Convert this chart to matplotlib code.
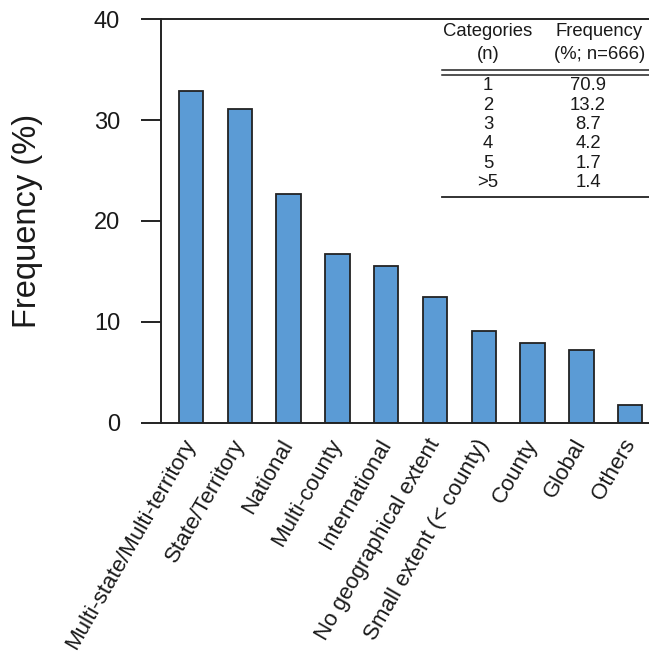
import numpy as np
import matplotlib.pyplot as plt

plt.rcParams['font.family'] = ['Liberation Sans', 'DejaVu Sans']

# geographical extent categories and their frequency (%)
categories = ['Multi-state/Multi-territory', 'State/Territory', 'National',
              'Multi-county', 'International', 'No geographical extent',
              'Small extent (< county)', 'County', 'Global', 'Others']
frequency = [32.9, 31.1, 22.7, 16.7, 15.5, 12.5, 9.1, 7.9, 7.2, 1.8]

# inset table: number of categories per item
n_categories = ['1', '2', '3', '4', '5', '>5']
n_frequency = ['70.9', '13.2', '8.7', '4.2', '1.7', '1.4']

bar_color = '#5B9BD5'
line_color = '#222222'
text_color = '#1a1a1a'

fig = plt.figure(figsize=(6.49, 6.52), dpi=100)
ax = fig.add_axes([0.248, 0.3517, 0.752, 0.6187])

x = np.arange(len(categories))
ax.bar(x, frequency, width=0.5, color=bar_color, edgecolor=line_color, linewidth=1.3, zorder=2)

ax.set_xlim(-0.615, 9.385)
ax.set_ylim(0, 40)
ax.set_yticks([0, 10, 20, 30, 40])
ax.tick_params(axis='y', direction='out', length=14.4, width=1.4, pad=15,
               labelsize=17, color=line_color, labelcolor=text_color)
ax.set_xticks(x)
ax.set_xticklabels(categories, rotation=60, ha='right', va='center',
                   rotation_mode='anchor', fontsize=16, color=text_color)
ax.tick_params(axis='x', length=0, pad=13)

for side in ['left', 'top', 'bottom']:
    ax.spines[side].set_linewidth(1.4)
    ax.spines[side].set_color(line_color)
ax.spines['right'].set_visible(False)

ax.set_ylabel('Frequency (%)', fontsize=23.5, va='center', color=text_color)
ax.yaxis.set_label_coords(-0.2725, 0.5)

# inset table drawn in the upper right corner
tr = ax.get_yaxis_transform()
col1, col2 = 0.670, 0.875
ax.text(col1, 38.77, 'Categories', transform=tr, ha='center', va='center', fontsize=13.3, color=text_color)
ax.text(col1, 36.46, '(n)', transform=tr, ha='center', va='center', fontsize=13.3, color=text_color)
ax.text(0.898, 38.77, 'Frequency', transform=tr, ha='center', va='center', fontsize=13.3, color=text_color)
ax.text(0.898, 36.46, '(%; n=666)', transform=tr, ha='center', va='center', fontsize=13.3, color=text_color)

ax.plot([0.576, 1.0], [34.97, 34.97], transform=tr, color=line_color, lw=1.1, clip_on=False)
ax.plot([0.576, 1.0], [34.47, 34.47], transform=tr, color=line_color, lw=1.1, clip_on=False)
ax.plot([0.576, 1.0], [22.4, 22.4], transform=tr, color=line_color, lw=1.3, clip_on=False)

row_y = 33.4
for n, f in zip(n_categories, n_frequency):
    ax.text(col1, row_y, n, transform=tr, ha='center', va='center', fontsize=13.3, color=text_color)
    ax.text(col2, row_y, f, transform=tr, ha='center', va='center', fontsize=13.3, color=text_color)
    row_y -= 1.92

fig.savefig('out.png', dpi=100)
